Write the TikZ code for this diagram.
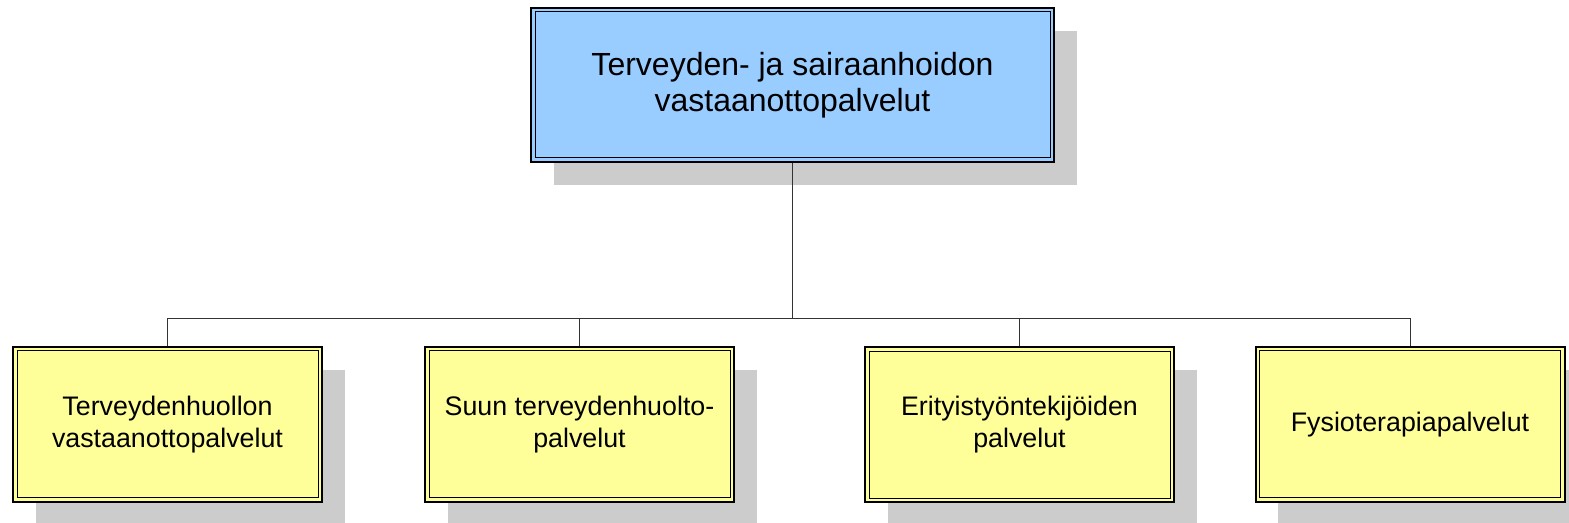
\documentclass[tikz,border=0pt]{standalone}
\usepackage{fontspec}
\setmainfont{Liberation Sans}
\usetikzlibrary{shadows}
\definecolor{topblue}{HTML}{99CCFF}
\definecolor{leafyellow}{HTML}{FFFF99}
\definecolor{shadowgray}{HTML}{CCCCCC}
\begin{document}
\begin{tikzpicture}[x=0.5pt,y=-0.5pt,
  basebox/.style={draw=black, line width=1pt, inner sep=0pt, align=center,
    drop shadow={shadow xshift=11.25pt, shadow yshift=-11.5pt, fill=shadowgray, opacity=1}},
  topbox/.style={basebox, fill=topblue, minimum width=261.5pt, minimum height=77pt,
    font=\fontsize{16}{18}\selectfont},
  leafbox/.style={basebox, fill=leafyellow, minimum width=154.5pt, minimum height=77.5pt,
    font=\fontsize{13.4}{16}\selectfont},
  innerline/.style={draw=black, line width=0.5pt},
  conn/.style={draw=black!80, line width=0.5pt}
]
\useasboundingbox (0,0) rectangle (1569,523);
\node[topbox] (top) at (792.5,85) {Terveyden- ja sairaanhoidon\\vastaanottopalvelut};
\node[leafbox] (a) at (167.5,424.5) {Terveydenhuollon\\vastaanottopalvelut};
\node[leafbox] (b) at (579.5,424.5) {Suun terveydenhuolto-\\palvelut};
\node[leafbox] (c) at (1019.5,425) {Erityistyöntekijöiden\\palvelut};
\node[leafbox] (d) at (1410,424.5) {Fysioterapiapalvelut};
\foreach \n in {top,a,b,c,d}
  \draw[innerline] ([shift={(2.5pt,-2.5pt)}]\n.north west) rectangle ([shift={(-2.5pt,2.5pt)}]\n.south east);
\coordinate (bus) at (792.5,319);
\draw[conn] (top.south) -- (top.south |- bus);
\draw[conn] (a.north) -- (a.north |- bus) -- (d.north |- bus) -- (d.north);
\draw[conn] (b.north) -- (b.north |- bus);
\draw[conn] (c.north) -- (c.north |- bus);
\end{tikzpicture}
\end{document}
